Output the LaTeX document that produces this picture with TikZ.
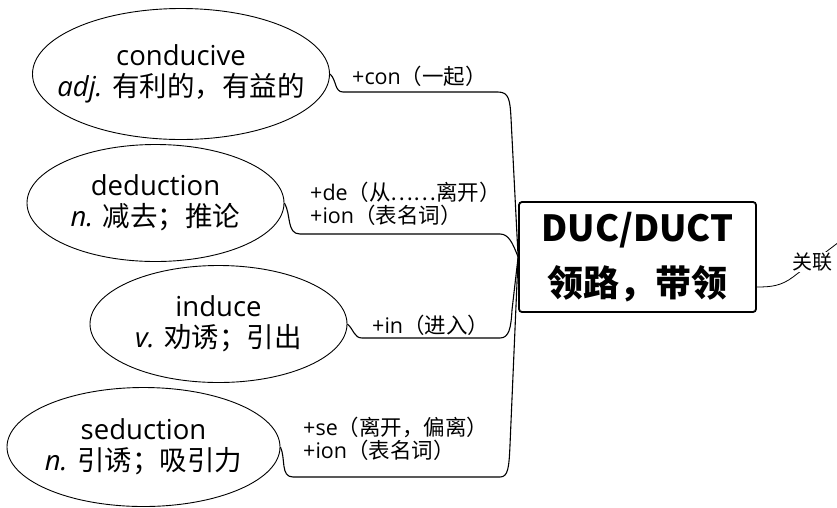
\documentclass[tikz,border=0pt]{standalone}
\usepackage{fontspec}
\setmainfont{Open Sans}
\newfontfamily\cjkfont{Noto Sans CJK SC}
\newcommand{\hz}[1]{{\cjkfont #1}}
\usetikzlibrary{shapes.geometric}

\begin{document}
\begin{tikzpicture}[x=1pt, y=-1pt,
  word/.style={ellipse, draw, line width=0.9pt, inner sep=0pt},
  wordtext/.style={align=center, inner sep=0pt, font=\fontsize{27.5}{31}\selectfont},
  root/.style={draw, line width=1.8pt, rounded corners=3pt, minimum width=237pt, minimum height=110pt, align=center, font=\cjkfont\bfseries\fontsize{36}{55}\selectfont},
  link/.style={line width=1.1pt},
  note/.style={align=left, inner sep=0pt, font=\fontsize{21.5}{23.5}\selectfont}]
\useasboundingbox (0,0) rectangle (837,507);

% root
\node[root] (duct) at (637.5,257) {DUC/DUCT\\领路，带领};

% words
\node[word, minimum width=297pt, minimum height=131pt] (conducive) at (181,74) {};
\node[wordtext] (conducive text) at (conducive) {conducive\\\textit{adj.} \hz{有利的，有益的}};
\node[word, minimum width=257pt, minimum height=117pt] (deduction) at (155.5,203) {};
\node[wordtext] (deduction text) at (deduction) {deduction\\\textit{n.} \hz{减去；推论}};
\node[word, minimum width=257pt, minimum height=117pt] (induce) at (218.5,324) {};
\node[wordtext] (induce text) at (induce) {induce\\\textit{v.} \hz{劝诱；引出}};
\node[word, minimum width=273pt, minimum height=119pt] (seduction) at (143.5,447) {};
\node[wordtext] (seduction text) at (seduction) {seduction\\\textit{n.} \hz{引诱；吸引力}};

% notes
\node[note, anchor=west] (conducive note) at (352,76) {+con\hz{（一起）}};
\node[note, anchor=west] (deduction note) at (310,204) {+de\hz{（从……离开）}\\+ion\hz{（表名词）}};
\node[note, anchor=west] (induce note) at (372,325) {+in\hz{（进入）}};
\node[note, anchor=west] (seduction note) at (303,439) {+se\hz{（离开，偏离）}\\+ion\hz{（表名词）}};

% links
\draw[link] (conducive.east) to[out=-40,in=180] (343,92) -- (498,92)
  .. controls (509,92) and (510,100) .. (511,118) -- (duct.west);
\draw[link] (deduction.east) to[out=-60,in=180] (300,234) -- (500,234)
  .. controls (509,234) and (513,244) .. (duct.west);
\draw[link] (induce.east) to[out=-40,in=180] (362,338) -- (500,338)
  .. controls (509,338) and (511,328) .. (512,310) -- (duct.west);
\draw[link] (seduction.east) to[out=-65,in=180] (293,477) -- (500,477)
  .. controls (508,477) and (509,468) .. (510,445) -- (duct.west);

% relation
\coordinate (rel mid) at (793,277);
\coordinate (rel end) at (860,226);
\draw[link, line width=0.8pt] ([yshift=-30pt]duct.east) to[out=0,in=217] (rel mid) -- (rel end);
\node[fill=white, inner sep=1pt, font=\cjkfont\fontsize{20}{24}\selectfont] (rel label) at (812,262) {关联};

\end{tikzpicture}
\end{document}
